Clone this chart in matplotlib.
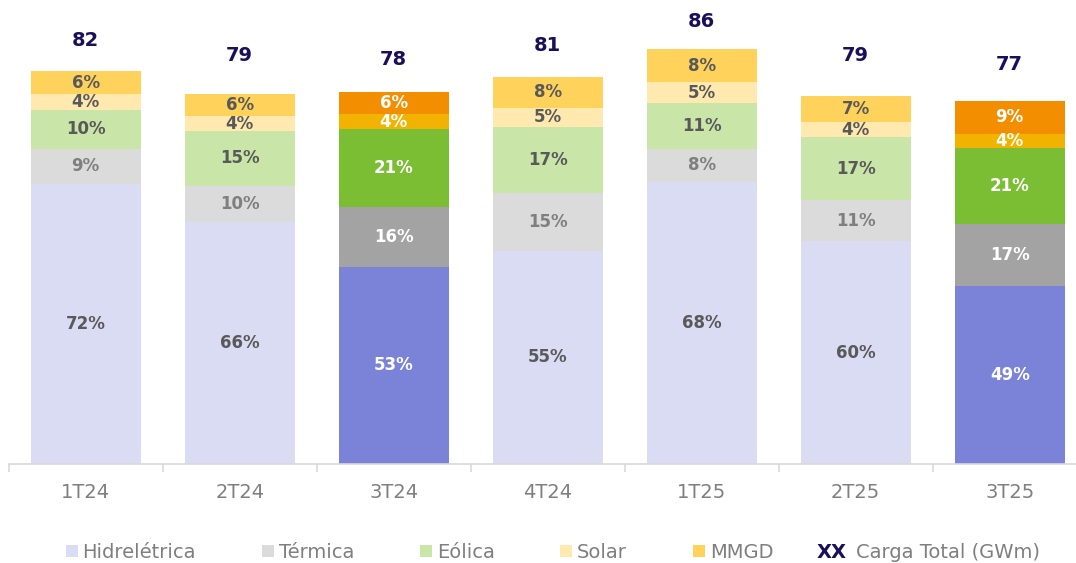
import matplotlib
matplotlib.use("Agg")
import matplotlib.pyplot as plt
from matplotlib.patches import Rectangle
from matplotlib.legend_handler import HandlerBase
from matplotlib.text import Text

# ---- data ----
quarters = ["1T24", "2T24", "3T24", "4T24", "1T25", "2T25", "3T25"]
carga_total = [82, 79, 78, 81, 86, 79, 77]            # GWm (labels above bars)
geracao_total = [82.4, 77.5, 78.0, 81.2, 87.0, 77.1, 76.1]  # bar height (GWm)
hidreletrica = [72, 66, 53, 55, 68, 60, 49]  # %
termica = [9, 10, 16, 15, 8, 11, 17]
eolica = [10, 15, 21, 17, 11, 17, 21]
solar = [4, 4, 4, 5, 5, 4, 4]
mmgd = [6, 6, 6, 8, 8, 7, 9]
highlight = ["3T24", "3T25"]

series_names = ["Hidrelétrica", "Térmica", "Eólica", "Solar", "MMGD"]
series_pct = [hidreletrica, termica, eolica, solar, mmgd]
light_colors = ["#D9DCF3", "#DBDBDB", "#C9E6A8", "#FFE9AF", "#FFD35B"]
dark_colors = ["#7B83D9", "#A3A3A3", "#7BBD33", "#F2B300", "#F28E00"]
light_text = ["#595959", "#7F7F7F", "#595959", "#595959", "#595959"]

W, H = 1076, 563
fig = plt.figure(figsize=(W / 100, H / 100), dpi=100)
px_per_unit = 4.77
base_px = 464
ymax = 95
ax = fig.add_axes([8.7 / W, (H - base_px) / H, 1078 / W, ymax * px_per_unit / H])
ax.set_xlim(-0.5, len(quarters) - 0.5)
ax.set_ylim(0, ymax)

x = list(range(len(quarters)))
bw = 110 / 154
bottoms = [0.0] * len(quarters)
for s, (name, pct) in enumerate(zip(series_names, series_pct)):
    heights = []
    for i in range(len(quarters)):
        tot = sum(p[i] for p in series_pct)
        heights.append(geracao_total[i] * pct[i] / tot)
    cols = [dark_colors[s] if q in highlight else light_colors[s] for q in quarters]
    ax.bar(x, heights, bw, bottom=bottoms, color=cols, edgecolor="none", label=name)
    for i in range(len(quarters)):
        tc = "white" if quarters[i] in highlight else light_text[s]
        ax.text(x[i], bottoms[i] + heights[i] / 2, f"{pct[i]}%", ha="center", va="center",
                fontsize=12, fontweight="bold", color=tc, family="DejaVu Sans")
    bottoms = [b + h for b, h in zip(bottoms, heights)]

for i, v in enumerate(carga_total):
    ax.text(x[i], v + 6.7, f"{v}", ha="center", va="center", fontsize=14,
            fontweight="bold", color="#1B0F5C")

# axes styling
for sp in ["top", "right", "left"]:
    ax.spines[sp].set_visible(False)
ax.spines["bottom"].set_color("#D9D9D9")
ax.spines["bottom"].set_linewidth(1.2)
ax.set_yticks([])
ax.set_xticks([i - 0.5 for i in range(len(quarters) + 1)], minor=False)
ax.set_xticklabels([""] * (len(quarters) + 1))
ax.tick_params(axis="x", which="major", length=6, color="#D9D9D9", width=1.2)
ax.set_xticks(x, minor=True)
ax.set_xticklabels(quarters, minor=True)
ax.tick_params(axis="x", which="minor", length=0, pad=14, labelsize=14, labelcolor="#7F7F7F")


class TextHandler(HandlerBase):
    def create_artists(self, legend, orig_handle, xdescent, ydescent, width, height, fontsize, trans):
        t = Text(x=-xdescent + width - 3, y=-ydescent + height / 2 - 1, text="XX",
                 ha="right", va="center", fontsize=fontsize, fontweight="bold", color="#1B0F5C")
        t.set_transform(trans)
        return [t]


class SquareHandler(HandlerBase):
    def create_artists(self, legend, orig_handle, xdescent, ydescent, width, height, fontsize, trans):
        s = 0.62 * fontsize
        r = Rectangle((-xdescent + width - s, -ydescent + height / 2 - s / 2), s, s,
                      facecolor=orig_handle.get_facecolor(), edgecolor="none", transform=trans)
        return [r]


handles = [Rectangle((0, 0), 1, 1, facecolor=c) for c in light_colors]
xx_handle = object()
hmap = {h: SquareHandler() for h in handles}
hmap[xx_handle] = TextHandler()
leg = fig.legend(handles + [xx_handle], series_names + ["Carga Total (GWm)"],
                 handler_map=hmap, loc="center", bbox_to_anchor=(552 / W, (H - 552) / H),
                 ncol=6, frameon=False, fontsize=14, handlelength=0.7, handletextpad=0.25,
                 columnspacing=3.3, labelcolor="#7F7F7F", borderpad=0)

fig.savefig("out.png", dpi=100)
